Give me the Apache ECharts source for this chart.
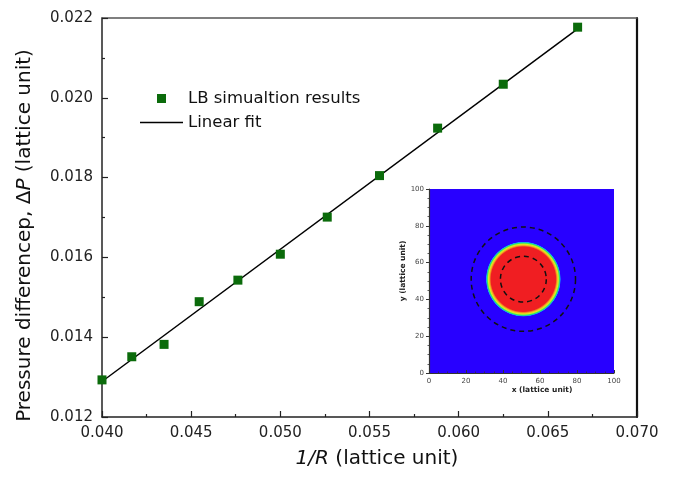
<!DOCTYPE html>
<html>
<head>
<meta charset="utf-8">
<script src="https://cdn.jsdelivr.net/npm/echarts@6/dist/echarts.min.js"></script>
<style>
html,body{margin:0;padding:0;background:#fff;}
#chart{width:673px;height:477px;}
</style>
</head>
<body>
<div id="chart"></div>
<script>
// ---- data ----
var invR = [0.04, 0.04167, 0.04348, 0.04545, 0.04762, 0.05, 0.05263, 0.05556, 0.05882, 0.0625, 0.06667];
var deltaP = [0.01293, 0.01351, 0.01382, 0.01489, 0.01543, 0.01608, 0.01701, 0.01805, 0.01924, 0.02034, 0.02177];
var fitX = [0.040, 0.06667];
var fitY = [0.01289, 0.02173];
// inset: [cx, cy, r] in lattice units
var dropDisk = [[51, 51, 20.3]];
var dashedCircles = [[51, 51, 28.2], [51, 51, 12.4]];

var FONT = 'DejaVu Sans';
var scatterData = invR.map(function (x, i) { return [x, deltaP[i]]; });
var fitData = fitX.map(function (x, i) { return [x, fitY[i]]; });

var chart = echarts.init(document.getElementById('chart'), null, {renderer: 'canvas'});

function diskItem(params, api) {
  var c = api.coord([api.value(0), api.value(1)]);
  var r = api.size([api.value(2), api.value(2)])[0];
  return {
    type: 'circle',
    shape: {cx: c[0], cy: c[1], r: r},
    style: {
      fill: new echarts.graphic.RadialGradient(0.5, 0.5, 0.5, [
        {offset: 0, color: '#f01e22'},
        {offset: 0.86, color: '#f01e22'},
        {offset: 0.9, color: '#f4b020'},
        {offset: 0.93, color: '#d8f020'},
        {offset: 0.96, color: '#30e860'},
        {offset: 0.985, color: '#10a0ff'},
        {offset: 1, color: '#2800ff'}
      ])
    }
  };
}
function dashItem(params, api) {
  var c = api.coord([api.value(0), api.value(1)]);
  var r = api.size([api.value(2), api.value(2)])[0];
  return {
    type: 'circle',
    shape: {cx: c[0], cy: c[1], r: r},
    style: {fill: null, stroke: '#111', lineWidth: 1.5, lineDash: [5, 4]}
  };
}

var option = {
  backgroundColor: '#fff',
  animation: false,
  legend: [
    {
      orient: 'vertical', left: 152, top: 85,
      itemWidth: 9, itemHeight: 9,
      textStyle: {fontFamily: FONT, fontSize: 16.5, color: '#111', padding: [0, 0, 0, 17]},
      data: [{name: 'LB simualtion results', icon: 'rect'}]
    },
    {
      orient: 'vertical', left: 135, top: 109,
      itemWidth: 43, itemHeight: 1.6,
      textStyle: {fontFamily: FONT, fontSize: 16.5, color: '#111'},
      data: [{name: 'Linear fit', icon: 'rect', itemStyle: {color: '#000'}}]
    }
  ],
  grid: [
    {left: 102, right: 36, top: 18, bottom: 60, show: false},
    {left: 429, top: 189, width: 185, height: 184, show: true, backgroundColor: '#2800ff', borderWidth: 0}
  ],
  xAxis: [
    {
      type: 'value', gridIndex: 0, min: 0.040, max: 0.070, interval: 0.005,
      axisLine: {show: true, onZero: false, lineStyle: {color: '#222', width: 1.5}},
      axisTick: {show: true, inside: true, length: 6, lineStyle: {color: '#222', width: 1.2}},
      minorTick: {show: true, splitNumber: 2, length: 3, lineStyle: {color: '#222', width: 1.2}},
      splitLine: {show: false},
      axisLabel: {fontFamily: FONT, fontSize: 15, color: '#222', margin: 9,
        formatter: function (v) { return v.toFixed(3); }},
      name: '{i|1/R} (lattice unit)',
      nameLocation: 'middle', nameGap: 32,
      nameTextStyle: {fontFamily: FONT, fontSize: 20, color: '#111', padding: [0, 0, 0, 15],
        rich: {i: {fontFamily: FONT, fontSize: 20, fontStyle: 'italic', color: '#111'}}}
    },
    {
      type: 'value', gridIndex: 0, position: 'top', min: 0.040, max: 0.070,
      axisLine: {show: true, onZero: false, lineStyle: {color: '#555', width: 1.5}},
      axisTick: {show: false}, axisLabel: {show: false}, splitLine: {show: false}
    },
    {
      type: 'value', gridIndex: 1, min: 0, max: 100, interval: 20,
      axisLine: {show: true, onZero: false, lineStyle: {color: '#333', width: 1.2}},
      axisTick: {show: true, inside: true, length: 3, lineStyle: {color: '#333', width: 1}},
      minorTick: {show: true, splitNumber: 4, length: 1.5, lineStyle: {color: '#333', width: 0.8}},
      splitLine: {show: false},
      axisLabel: {fontFamily: FONT, fontSize: 7, color: '#444', margin: 5},
      name: 'x (lattice unit)', nameLocation: 'middle', nameGap: 13,
      nameTextStyle: {fontFamily: FONT, fontSize: 7.5, fontWeight: 'bold', color: '#222', padding: [0, 0, 0, 41]}
    }
  ],
  yAxis: [
    {
      type: 'value', gridIndex: 0, min: 0.012, max: 0.022, interval: 0.002,
      axisLine: {show: true, onZero: false, lineStyle: {color: '#222', width: 1.5}},
      axisTick: {show: true, inside: true, length: 6, lineStyle: {color: '#222', width: 1.2}},
      minorTick: {show: true, splitNumber: 2, length: 3, lineStyle: {color: '#222', width: 1.2}},
      splitLine: {show: false},
      axisLabel: {fontFamily: FONT, fontSize: 15, color: '#222', margin: 9,
        formatter: function (v) { return v.toFixed(3); }},
      name: 'Pressure differencep, \u0394{i|P} (lattice unit)',
      nameLocation: 'middle', nameGap: 67, nameRotate: 90,
      nameTextStyle: {fontFamily: FONT, fontSize: 20, color: '#111', padding: [0, 36, 0, 0],
        rich: {i: {fontFamily: FONT, fontSize: 20, fontStyle: 'italic', color: '#111'}}}
    },
    {
      type: 'value', gridIndex: 0, position: 'right', min: 0.012, max: 0.022,
      axisLine: {show: true, onZero: false, lineStyle: {color: '#111', width: 2.2}},
      axisTick: {show: false}, axisLabel: {show: false}, splitLine: {show: false}
    },
    {
      type: 'value', gridIndex: 1, min: 0, max: 100, interval: 20,
      axisLine: {show: true, onZero: false, lineStyle: {color: '#333', width: 1.2}},
      axisTick: {show: true, inside: false, length: 3, lineStyle: {color: '#333', width: 1}},
      minorTick: {show: true, splitNumber: 4, length: 1.5, lineStyle: {color: '#333', width: 0.8}},
      splitLine: {show: false},
      axisLabel: {fontFamily: FONT, fontSize: 7, color: '#444', margin: 5},
      name: 'y (lattice unit)', nameLocation: 'middle', nameGap: 20, nameRotate: 90,
      nameTextStyle: {fontFamily: FONT, fontSize: 7.5, fontWeight: 'bold', color: '#222', padding: [0, 0, 0, 20]}
    }
  ],
  series: [
    {
      name: 'Linear fit', type: 'line', xAxisIndex: 0, yAxisIndex: 0,
      data: fitData, symbol: 'none', showSymbol: false,
      lineStyle: {color: '#000', width: 1.5}, itemStyle: {color: '#000'}, z: 2
    },
    {
      name: 'LB simualtion results', type: 'scatter', xAxisIndex: 0, yAxisIndex: 0,
      data: scatterData, symbol: 'rect', symbolSize: 9,
      itemStyle: {color: '#0b6b0b', opacity: 1}, z: 3
    },
    {
      type: 'custom', xAxisIndex: 2, yAxisIndex: 2, data: dropDisk,
      renderItem: diskItem, silent: true, z: 4
    },
    {
      type: 'custom', xAxisIndex: 2, yAxisIndex: 2, data: dashedCircles,
      renderItem: dashItem, silent: true, z: 5
    }
  ]
};
chart.setOption(option);
</script>
</body>
</html>
